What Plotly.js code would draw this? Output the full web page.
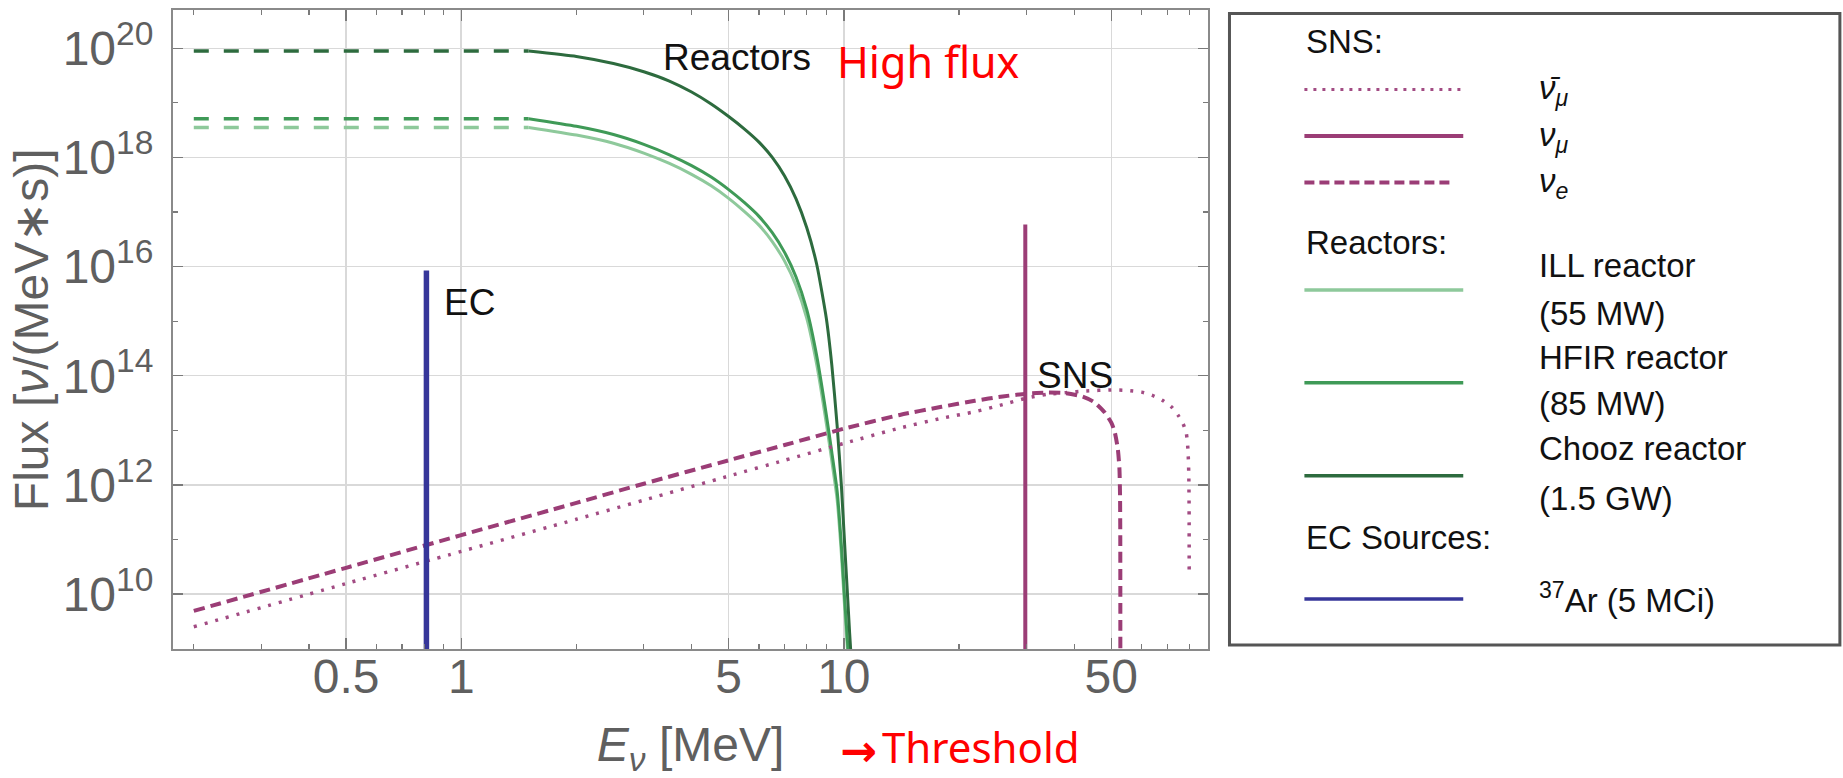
<!DOCTYPE html>
<html>
<head>
<meta charset="utf-8">
<script src="https://cdn.plot.ly/plotly-3.0.1.min.js"></script>
<style>
html,body{margin:0;padding:0;background:#fff;}
#chart{width:1843px;height:778px;}
</style>
</head>
<body>
<div id="chart"></div>
<script>
// ---------------- data ----------------
// EC source 37Ar line
const arEnergy = [0.811, 0.811];
const arFlux = [1e8, 8.5e15];
// SNS prompt nu_mu line
const numuEnergy = [29.8, 29.8];
const numuFlux = [1e8, 5.9e16];

// Reactors below threshold (dashed)
const reactorLowEnergy = [0.2, 1.5];
const choozLowFlux = [8.91e19, 8.91e19];
const hfirLowFlux = [5.13e18, 5.13e18];
const illLowFlux = [3.55e18, 3.55e18];

// Chooz reactor (1.5 GW)
const choozEnergy = [1.5, 2, 2.5, 3, 3.5, 4, 4.5, 5, 5.5, 6, 6.5, 7, 7.5, 8, 8.5, 9, 9.3, 9.6, 9.85, 10.05, 10.2, 10.35, 10.5];
const choozFlux = [8.91e19, 7.08e19, 5.25e19, 3.72e19, 2.51e19, 1.58e19, 9.55e18, 5.62e18, 3.31e18, 1.91e18, 1.0e18, 4.57e17, 1.74e17, 5.13e16, 1.07e16, 1.12e15, 1.58e14, 1.26e13, 1.0e12, 7.94e10, 1.26e10, 2.0e9, 3.98e8];

// HFIR (85 MW) and ILL (55 MW)
const hfirEnergy = [1.5, 2, 2.5, 3, 3.5, 4, 4.5, 5, 5.5, 6, 6.5, 7, 7.5, 8, 8.5, 9, 9.3, 9.6, 9.85, 10.05, 10.25, 10.4];
const hfirFlux = [5.13e18, 3.72e18, 2.63e18, 1.74e18, 1.12e18, 7.08e17, 4.37e17, 2.57e17, 1.48e17, 8.32e16, 4.17e16, 1.82e16, 6.46e15, 1.62e15, 2.24e14, 1.91e13, 3.98e12, 7.94e11, 7.94e10, 7.94e9, 1.0e9, 2.0e8];
const illEnergy = [1.5, 2, 2.5, 3, 3.5, 4, 4.5, 5, 5.5, 6, 6.5, 7, 7.5, 8, 8.5, 9, 9.3, 9.6, 9.85, 10.05, 10.25, 10.4];
const illFlux = [3.55e18, 2.57e18, 1.82e18, 1.20e18, 7.76e17, 4.90e17, 3.02e17, 1.78e17, 1.02e17, 5.75e16, 2.88e16, 1.26e16, 4.47e15, 1.12e15, 1.55e14, 1.32e13, 2.75e12, 5.50e11, 5.50e10, 5.50e9, 6.92e8, 1.38e8];

// SNS nu_e (dashed)
const nueEnergy = [0.2, 0.5, 1, 2, 3, 5, 7, 10, 14, 18, 22, 26, 30, 34, 38, 42, 45, 48, 50, 51, 52, 52.5, 52.7, 52.78, 52.8];
const nueFlux = [4.90e9, 3.02e10, 1.20e11, 4.68e11, 1.05e12, 2.82e12, 5.37e12, 1.07e13, 1.91e13, 2.69e13, 3.47e13, 4.17e13, 4.68e13, 4.90e13, 4.79e13, 4.17e13, 3.31e13, 2.14e13, 1.38e13, 9.55e12, 4.57e12, 2.0e12, 6.31e11, 1.0e11, 3.16e8];

// SNS anti nu_mu (dotted)
const numubarEnergy = [0.2, 0.5, 1, 2, 3, 5, 7, 10, 14, 18, 22, 26, 30, 34, 38, 43, 50, 55, 60, 64, 68, 72, 75, 77, 78.5, 79.3, 79.7, 79.85, 79.9];
const numubarFlux = [2.51e9, 1.55e10, 6.03e10, 2.34e11, 5.25e11, 1.45e12, 2.82e12, 5.75e12, 1.10e13, 1.66e13, 2.19e13, 2.95e13, 3.89e13, 4.57e13, 4.90e13, 5.25e13, 5.50e13, 5.37e13, 5.01e13, 4.37e13, 3.55e13, 2.63e13, 1.82e13, 1.32e13, 8.91e12, 4.47e12, 1.58e12, 3.98e11, 2.75e10];

// ticks
const xTickVals = [0.5, 1, 5, 10, 50];
const xTickText = ['0.5', '1', '5', '10', '50'];
const xMinorVals = [0.2, 0.3, 0.4, 0.6, 0.7, 0.8, 0.9, 2, 3, 4, 6, 7, 8, 9, 20, 30, 40, 60, 70, 80];
const yTickVals = [1e10, 1e12, 1e14, 1e16, 1e18, 1e20];
const yTickText = ['10<sup>10</sup>', '10<sup>12</sup>', '10<sup>14</sup>', '10<sup>16</sup>', '10<sup>18</sup>', '10<sup>20</sup>'];
const yMinorVals = [1e9, 1e11, 1e13, 1e15, 1e17, 1e19];

// ---------------- styling ----------------
const C_CHOOZ = '#2d6b3e';
const C_HFIR = '#3f9a57';
const C_ILL = '#8ec99b';
const C_SNS = '#9b3d76';
const C_SNS_DOT = '#a24b83';
const C_AR = '#36369a';
const GRAYTXT = '#5f5f5f';
const FONT = 'Liberation Sans, Arial, sans-serif';

const PL = 172.5, PT = 10, PW = 1036, PH = 639;
function px(x) { return (x - PL) / PW; }
function py(y) { return (PT + PH - y) / PH; }

const traces = [
  {x: reactorLowEnergy, y: illLowFlux, mode: 'lines', line: {color: C_ILL, width: 3.5, dash: '15px,15px'}, showlegend: false, hoverinfo: 'skip'},
  {x: reactorLowEnergy, y: hfirLowFlux, mode: 'lines', line: {color: C_HFIR, width: 3.5, dash: '15px,15px'}, showlegend: false, hoverinfo: 'skip'},
  {x: reactorLowEnergy, y: choozLowFlux, mode: 'lines', line: {color: C_CHOOZ, width: 3.5, dash: '15px,15px'}, showlegend: false, hoverinfo: 'skip'},
  {x: illEnergy, y: illFlux, mode: 'lines', line: {color: C_ILL, width: 3, shape: 'spline', smoothing: 0.5}, name: 'ILL reactor (55 MW)', showlegend: false},
  {x: hfirEnergy, y: hfirFlux, mode: 'lines', line: {color: C_HFIR, width: 3, shape: 'spline', smoothing: 0.5}, name: 'HFIR reactor (85 MW)', showlegend: false},
  {x: choozEnergy, y: choozFlux, mode: 'lines', line: {color: C_CHOOZ, width: 3, shape: 'spline', smoothing: 0.5}, name: 'Chooz reactor (1.5 GW)', showlegend: false},
  {x: numubarEnergy, y: numubarFlux, mode: 'lines', line: {color: C_SNS_DOT, width: 3.5, dash: '3px,8px', shape: 'spline', smoothing: 0.6}, name: 'anti nu_mu', showlegend: false},
  {x: nueEnergy, y: nueFlux, mode: 'lines', line: {color: C_SNS, width: 4, dash: '11px,6px', shape: 'spline', smoothing: 0.6}, name: 'nu_e', showlegend: false},
  {x: numuEnergy, y: numuFlux, mode: 'lines', line: {color: C_SNS, width: 4}, name: 'nu_mu', showlegend: false},
  {x: arEnergy, y: arFlux, mode: 'lines', line: {color: C_AR, width: 5.5}, name: '37Ar (5 MCi)', showlegend: false}
];

// custom legend (box, line samples, texts)
const legX0 = 1305, legX1 = 1464, legTextX = 1538, legHeadX = 1305;
const shapes = [
  {type: 'rect', xref: 'paper', yref: 'paper', x0: px(1230), x1: px(1841), y0: py(645), y1: py(13.5), line: {color: '#555555', width: 3}, fillcolor: 'rgba(0,0,0,0)'},
  {type: 'line', xref: 'paper', yref: 'paper', x0: px(legX0), x1: px(legX1), y0: py(89.5), y1: py(89.5), line: {color: C_SNS_DOT, width: 3, dash: '3px,6px'}},
  {type: 'line', xref: 'paper', yref: 'paper', x0: px(legX0), x1: px(legX1), y0: py(136), y1: py(136), line: {color: C_SNS, width: 4}},
  {type: 'line', xref: 'paper', yref: 'paper', x0: px(legX0), x1: px(legX1 - 10), y0: py(182.5), y1: py(182.5), line: {color: C_SNS, width: 4, dash: '10px,5px'}},
  {type: 'line', xref: 'paper', yref: 'paper', x0: px(legX0), x1: px(legX1), y0: py(290), y1: py(290), line: {color: C_ILL, width: 3.5}},
  {type: 'line', xref: 'paper', yref: 'paper', x0: px(legX0), x1: px(legX1), y0: py(382.7), y1: py(382.7), line: {color: C_HFIR, width: 3.5}},
  {type: 'line', xref: 'paper', yref: 'paper', x0: px(legX0), x1: px(legX1), y0: py(475.7), y1: py(475.7), line: {color: C_CHOOZ, width: 3.5}},
  {type: 'line', xref: 'paper', yref: 'paper', x0: px(legX0), x1: px(legX1), y0: py(599), y1: py(599), line: {color: C_AR, width: 3.5}}
];

function txt(text, xPix, yPix, size, color, family, anchor, yanchor) {
  return {text: text, xref: 'paper', yref: 'paper', x: px(xPix), y: py(yPix), xanchor: anchor || 'left', yanchor: yanchor || 'middle',
          showarrow: false, font: {family: family || FONT, size: size, color: color || '#111111'}};
}
const LF = 33;
const annotations = [
  txt('SNS:', legHeadX, 42, LF),
  txt('<i>ν̄</i><sub><i>μ</i></sub>', legTextX, 90, LF),
  txt('<i>ν</i><sub><i>μ</i></sub>', legTextX, 137, LF),
  txt('<i>ν</i><sub><i>e</i></sub>', legTextX, 183, LF),
  txt('Reactors:', legHeadX, 242, LF),
  txt('ILL reactor', legTextX, 265, LF),
  txt('(55 MW)', legTextX, 313, LF),
  txt('HFIR reactor', legTextX, 357, LF),
  txt('(85 MW)', legTextX, 403.5, LF),
  txt('Chooz reactor', legTextX, 448.5, LF),
  txt('(1.5 GW)', legTextX, 498.5, LF),
  txt('EC Sources:', legHeadX, 537, LF),
  txt('<sup>37</sup>Ar (5 MCi)', legTextX, 598, LF),
  // in-plot labels
  txt('Reactors', 661, 57.5, 37),
  txt('EC', 442, 302, 37),
  txt('SNS', 1035, 375, 37),
  txt('High flux', 835, 62, 43, '#ff0000', 'Noto Sans, sans-serif'),
  txt('<b>→</b>', 838, 750, 44, '#ff0000', 'DejaVu Sans, sans-serif'),
  txt('Threshold', 880, 776.5, 42, '#ff0000', 'Noto Sans, sans-serif', 'left', 'bottom'),
  // y axis title
  {text: 'Flux [<i>ν</i>/(MeV∗s)]', xref: 'paper', yref: 'paper', x: px(31), y: py(329.5), xanchor: 'center', yanchor: 'middle',
   textangle: -90, showarrow: false, font: {family: FONT, size: 48, color: GRAYTXT}}
];

const layout = {
  width: 1843, height: 778,
  margin: {l: PL, r: 1843 - PL - PW, t: PT, b: 778 - PT - PH, pad: 0},
  paper_bgcolor: '#ffffff', plot_bgcolor: '#ffffff',
  showlegend: false,
  font: {family: FONT, color: GRAYTXT},
  xaxis: {
    type: 'log', range: [-0.7533, 1.9517], autorange: false,
    tickmode: 'array', tickvals: xTickVals, ticktext: xTickText,
    ticks: 'inside', ticklen: 11, tickwidth: 1.3, tickcolor: '#7a7a7a',
    showline: true, linecolor: '#8a8a8a', linewidth: 2, mirror: 'allticks',
    showgrid: true, gridcolor: '#d9d9d9', gridwidth: 1.5, zeroline: false,
    tickfont: {family: FONT, size: 48, color: GRAYTXT},
    ticklabelstandoff: -16,
    minor: {tickmode: 'array', tickvals: xMinorVals, ticks: 'inside', ticklen: 5, tickwidth: 1.2, tickcolor: '#7a7a7a', showgrid: false},
    title: {text: '<i>E</i><sub><i>ν</i></sub> [MeV]', font: {family: FONT, size: 48, color: GRAYTXT}, standoff: 26},
    automargin: false
  },
  yaxis: {
    type: 'log', range: [8.992, 20.702], autorange: false,
    tickmode: 'array', tickvals: yTickVals, ticktext: yTickText,
    ticks: 'inside', ticklen: 10, tickwidth: 1.3, tickcolor: '#7a7a7a',
    showline: true, linecolor: '#8a8a8a', linewidth: 2, mirror: 'allticks',
    showgrid: true, gridcolor: '#d9d9d9', gridwidth: 1.5, zeroline: false,
    tickfont: {family: FONT, size: 48, color: GRAYTXT},
    ticklabelstandoff: 8,
    minor: {tickmode: 'array', tickvals: yMinorVals, ticks: 'inside', ticklen: 5, tickwidth: 1.2, tickcolor: '#7a7a7a', showgrid: false},
    automargin: false
  },
  shapes: shapes,
  annotations: annotations
};

Plotly.newPlot('chart', traces, layout, {staticPlot: true, displayModeBar: false});
</script>
</body>
</html>
